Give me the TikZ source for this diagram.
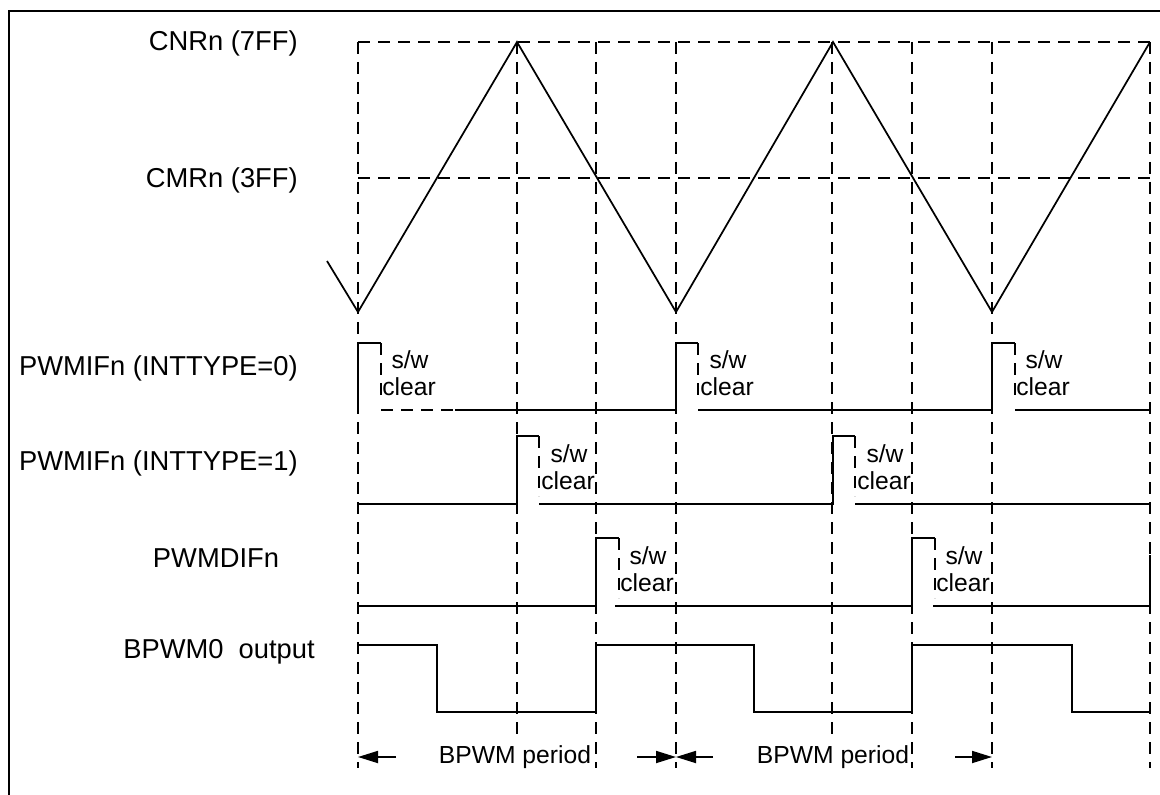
\documentclass[tikz,border=0pt]{standalone}
\usepackage{fontspec}
\setmainfont{Liberation Sans}
\usetikzlibrary{arrows.meta}
\begin{document}
\begin{tikzpicture}[x=0.75pt,y=-0.75pt,
  sig/.style={line width=1.3pt},
  dsh/.style={line width=1.3pt,dash pattern=on 9pt off 6pt},
  lbl/.style={font=\fontsize{20.5}{24}\selectfont,inner sep=0pt},
  swt/.style={font=\fontsize{18.5}{22}\selectfont,inner sep=0pt},
  arr/.style={line width=1.3pt,-{Triangle[length=15pt,width=9pt]}}]
\useasboundingbox (0,0) rectangle (1160,795);
% frame
\draw[line width=2.2pt] (9,795) -- (9,11) -- (1160,11);
% reference levels
\draw[dsh] (358,42) -- (1150,42);
\draw[dsh] (358,178) -- (1150,178);
\foreach \x in {358,596,676,912,992,1150}
  \draw[dsh] (\x,42) -- (\x,768);
\foreach \x in {517,832}
  \draw[dsh] (\x,42) -- (\x,735);
% labels
\node[lbl,anchor=east] (cnr) at (298,43) {CNRn (7FF)};
\node[lbl,anchor=east] (cmr) at (298,180) {CMRn (3FF)};
\node[lbl,anchor=east] (if0) at (298,368) {PWMIFn (INTTYPE=0)};
\node[lbl,anchor=east] (if1) at (298,463) {PWMIFn (INTTYPE=1)};
\node[lbl] (dif) at (216,558) {PWMDIFn};
\node[lbl] (out) at (219,652) {BPWM0\ \ output};
% triangle counter
\draw[sig] (327,261) -- (358,312) -- (517,42) -- (676,312) -- (833,42) -- (992,312) -- (1150,42);
% PWMIFn INTTYPE=0
\draw[sig] (358,410) -- (358,343) -- (381,343);
\draw[dsh] (381,343) -- (381,402);
\draw[dsh] (381,410) -- (455,410);
\draw[sig] (455,410) -- (676,410) -- (676,343) -- (698,343);
\draw[dsh] (698,343) -- (698,402);
\draw[sig] (698,410) -- (992,410) -- (992,343) -- (1015,343);
\draw[dsh] (1015,343) -- (1015,402);
\draw[sig] (1015,410) -- (1150,410);
% PWMIFn INTTYPE=1
\draw[sig] (358,504) -- (517,504) -- (517,436) -- (539,436);
\draw[dsh] (539,436) -- (539,496);
\draw[sig] (539,504) -- (833,504) -- (833,436) -- (855,436);
\draw[dsh] (855,436) -- (855,496);
\draw[sig] (855,504) -- (1150,504);
% PWMDIFn
\draw[sig] (358,606) -- (596,606) -- (596,538) -- (619,538);
\draw[dsh] (619,538) -- (619,598);
\draw[sig] (615,606) -- (912,606) -- (912,538) -- (935,538);
\draw[dsh] (935,538) -- (935,598);
\draw[sig] (933,606) -- (1150,606) -- (1150,555);
% BPWM0 output
\draw[sig] (358,645) -- (437,645) -- (437,712) -- (596,712) -- (596,645) -- (754,645)
  -- (754,712) -- (912,712) -- (912,645) -- (1072,645) -- (1072,712) -- (1150,712);
% s/w clear labels
\foreach \x/\y [count=\i] in {358/410,676/410,992/410,517/504,833/504,596/606,912/606}{
  \node[swt] (sw\i) at (\x+52,\y-50) {s/w};
  \node[swt] (cl\i) at (\x+51,\y-23) {clear};
}
% period arrows
\coordinate (a1) at (358,757); \coordinate (a1t) at (396,757);
\coordinate (a2) at (676,757); \coordinate (a2l) at (637,757); \coordinate (a2r) at (713,757);
\coordinate (a3) at (992,757); \coordinate (a3t) at (955,757);
\draw[arr] (a1t) -- (a1);
\draw[arr] (a2l) -- (a2);
\draw[arr] (a2r) -- (a2);
\draw[arr] (a3t) -- (a3);
\node[swt] (p1) at (515,757) {BPWM period};
\node[swt] (p2) at (833,757) {BPWM period};
\end{tikzpicture}
\end{document}
